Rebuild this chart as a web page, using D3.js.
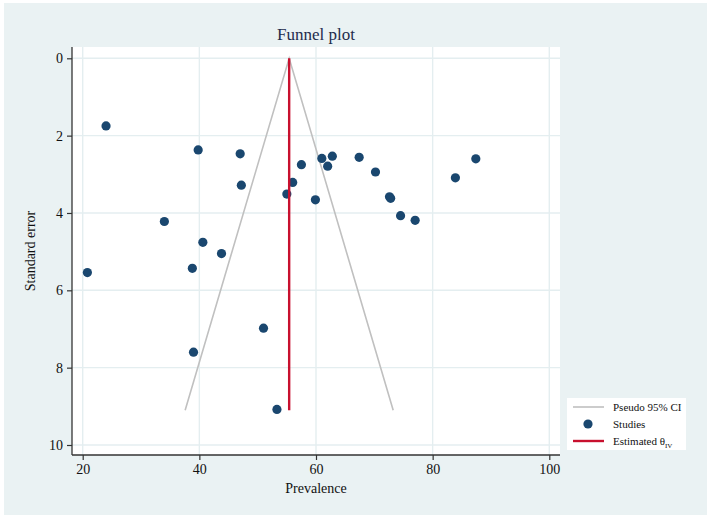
<!DOCTYPE html>
<html>
<head>
<meta charset="utf-8">
<script src="https://cdn.jsdelivr.net/npm/d3@7"></script>
<style>
  body { margin: 0; background: #ffffff; }
  text { font-family: "Liberation Serif", "Times New Roman", serif; }
</style>
</head>
<body>
<svg id="canvas" width="710" height="519"></svg>
<script>
// studies: prevalence (x) and standard error (y)
const prevalence = [24.0, 39.8, 47.0, 47.2, 57.5, 56.0, 55.0, 59.9, 34.0, 40.6, 43.8, 38.8, 20.8,
                    51.0, 39.0, 53.3, 61.0, 62.8, 62.0, 67.4, 70.2, 72.6, 72.8, 74.5, 77.0, 83.9, 87.4];
const stdError   = [1.75, 2.37, 2.47, 3.28, 2.75, 3.21, 3.51, 3.66, 4.22, 4.76, 5.05, 5.43, 5.54,
                    6.98, 7.60, 9.08, 2.59, 2.53, 2.79, 2.56, 2.94, 3.58, 3.62, 4.07, 4.19, 3.09, 2.60];

const thetaIV = 55.4;
const maxSE = 9.1;
const xTicks = [20, 40, 60, 80, 100];
const yTicks = [0, 2, 4, 6, 8, 10];
const legendLabels = ["Pseudo 95% CI", "Studies", "Estimated θ"];

const BG = "#eaf2f3";
const NAVY = "#1a476f";
const RED = "#c8102e";
const GREY = "#c0c0c0";

let svg = d3.select("#canvas");

svg.append("rect")
  .attr("x", 4).attr("y", 3)
  .attr("width", 703).attr("height", 512)
  .attr("fill", BG);

let plot = { left: 72, right: 560, top: 47, bottom: 455 };

let x = d3.scaleLinear().domain([20, 100]).range([82.7, 549.3]);
let y = d3.scaleLinear().domain([0, 10]).range([58.3, 445]);

svg.append("rect")
  .attr("x", plot.left).attr("y", plot.top)
  .attr("width", plot.right - plot.left).attr("height", plot.bottom - plot.top)
  .attr("fill", "#ffffff");

// grid
svg.append("g").selectAll("line")
  .data(xTicks).enter().append("line")
  .attr("x1", d => x(d)).attr("x2", d => x(d))
  .attr("y1", plot.top).attr("y2", plot.bottom)
  .attr("stroke", "#e4eef0").attr("stroke-width", 1.4);

svg.append("g").selectAll("line")
  .data(yTicks).enter().append("line")
  .attr("y1", d => y(d)).attr("y2", d => y(d))
  .attr("x1", plot.left).attr("x2", plot.right)
  .attr("stroke", "#e4eef0").attr("stroke-width", 1.4);

// axes
let xAxis = svg.append("g")
  .attr("transform", "translate(0," + plot.bottom + ")")
  .call(d3.axisBottom(x).tickValues(xTicks).tickSize(5).tickPadding(4).tickSizeOuter(0));
let yAxis = svg.append("g")
  .attr("transform", "translate(" + plot.left + ",0)")
  .call(d3.axisLeft(y).tickValues(yTicks).tickSize(5).tickPadding(4).tickSizeOuter(0));

xAxis.select(".domain").attr("d", "M" + plot.left + ",0H" + plot.right);
yAxis.select(".domain").attr("d", "M0," + plot.top + "V" + plot.bottom);

[xAxis, yAxis].forEach(a => {
  a.selectAll(".domain").attr("stroke", "#333").attr("stroke-width", 1.3);
  a.selectAll(".tick line").attr("stroke", "#333").attr("stroke-width", 1.2);
  a.selectAll(".tick text").attr("fill", "#111").style("font-size", "14px")
    .style("font-family", "'Liberation Serif', serif");
});

// pseudo 95% CI funnel
let funnel = [[thetaIV - 1.96 * maxSE, maxSE], [thetaIV, 0], [thetaIV + 1.96 * maxSE, maxSE]];
svg.append("path")
  .datum(funnel)
  .attr("d", d3.line().x(d => x(d[0])).y(d => y(d[1])))
  .attr("fill", "none").attr("stroke", GREY).attr("stroke-width", 1.6);

// studies
svg.append("g").selectAll("circle")
  .data(prevalence).enter().append("circle")
  .attr("cx", d => x(d))
  .attr("cy", (d, i) => y(stdError[i]))
  .attr("r", 4.6)
  .attr("fill", NAVY);

// estimated theta
svg.append("line")
  .attr("x1", x(thetaIV)).attr("x2", x(thetaIV))
  .attr("y1", y(0)).attr("y2", y(maxSE))
  .attr("stroke", RED).attr("stroke-width", 2.4);

// titles
svg.append("text")
  .attr("x", (plot.left + plot.right) / 2).attr("y", 40)
  .attr("text-anchor", "middle")
  .attr("fill", "#1e2c4c")
  .style("font-size", "17px")
  .text("Funnel plot");

svg.append("text")
  .attr("x", (plot.left + plot.right) / 2).attr("y", 493)
  .attr("text-anchor", "middle")
  .attr("fill", "#111")
  .style("font-size", "14px")
  .text("Prevalence");

svg.append("text")
  .attr("transform", "translate(35," + ((plot.top + plot.bottom) / 2) + ") rotate(-90)")
  .attr("text-anchor", "middle")
  .attr("fill", "#111")
  .style("font-size", "14px")
  .text("Standard error");

// legend
let legend = svg.append("g").attr("transform", "translate(567,398)");
legend.append("rect")
  .attr("width", 119).attr("height", 52)
  .attr("fill", "#ffffff");

let item = legend.selectAll("g.item")
  .data(legendLabels).enter().append("g")
  .attr("class", "item")
  .attr("transform", (d, i) => "translate(0," + (9 + i * 17) + ")");

item.filter((d, i) => i === 0).append("line")
  .attr("x1", 6).attr("x2", 37).attr("stroke", GREY).attr("stroke-width", 1.6);
item.filter((d, i) => i === 1).append("circle")
  .attr("cx", 21).attr("r", 4.6).attr("fill", NAVY);
item.filter((d, i) => i === 2).append("line")
  .attr("x1", 6).attr("x2", 37).attr("stroke", RED).attr("stroke-width", 2.4);

let labels = item.append("text")
  .attr("x", 46).attr("y", 4)
  .attr("fill", "#111")
  .style("font-size", "11px")
  .text(d => d);
labels.filter((d, i) => i === 2).append("tspan")
  .attr("dy", 3).style("font-size", "7px").text("IV");
</script>
</body>
</html>
